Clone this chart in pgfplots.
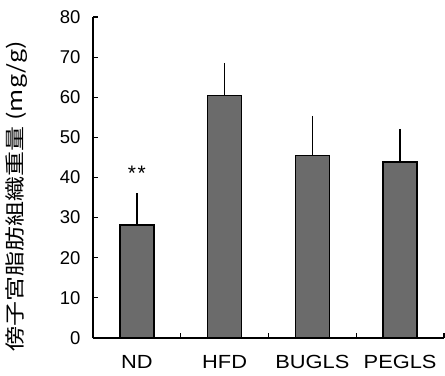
\documentclass[border=0pt]{standalone}
\usepackage{fontspec}
\setmainfont{Liberation Sans}
\newfontfamily\catfont{Liberation Sans}[FakeStretch=1.15]
\newfontfamily\cjk{Noto Sans CJK JP}[FakeStretch=1.25]
\usepackage{pgfplots}
\pgfplotsset{compat=1.18}
\definecolor{barfill}{gray}{0.42}
\begin{document}
\begin{tikzpicture}
\begin{axis}[
  at={(93bp,38bp)}, anchor=south west,
  scale only axis, width=351bp, height=321bp,
  xmin=-0.5, xmax=3.5, ymin=0, ymax=80,
  axis x line*=bottom, axis y line*=left,
  axis line style={-, line width=1.3bp, black},
  ytick={0,10,...,80},
  xtick={-0.5,0.5,1.5,2.5,3.5},
  x tick label as interval,
  xticklabels={ND,HFD,BUGLS,PEGLS},
  tick align=inside,
  major tick length=5bp,
  tick style={line width=1.2bp, black},
  /pgf/number format/assume math mode=true,
  y tick label style={font=\fontsize{18.5bp}{20bp}\selectfont, xshift=-9bp},
  x tick label style={font=\catfont\fontsize{19bp}{20bp}\selectfont, yshift=-14bp},
]
\addplot[ybar, bar width=34bp, fill=barfill, draw=black, line width=1.3bp,
  error bars/.cd, y dir=plus, y explicit,
  error bar style={line width=1.3bp, black},
  error mark options={mark size=5bp, line width=1.3bp, black}]
  coordinates {
    (0,28.2) +- (0,6.6)
    (1,60.4) +- (0,6.9)
    (2,45.5) +- (0,8.6)
    (3,43.9) +- (0,7.0)
  };
\node[anchor=base] at (axis cs:0,39.2) {\fontsize{21bp}{21bp}\selectfont *\kern1.5bp*};
\end{axis}
\node[rotate=90] at (17bp,180bp) {\cjk\fontsize{20bp}{22bp}\selectfont 傍子宮脂肪組織重量 (mg/g)};
\pgfresetboundingbox
\path (0,0) rectangle (445bp,376bp);
\end{tikzpicture}
\end{document}
